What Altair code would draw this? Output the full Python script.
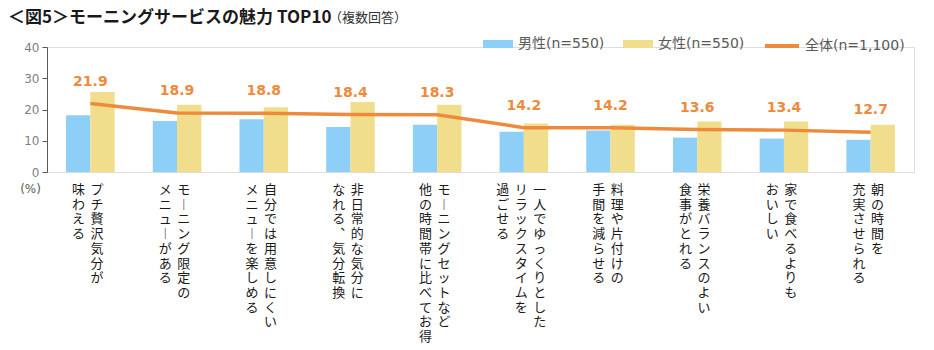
import altair as alt
import pandas as pd

# ---- data ----
label_columns = [
    ["プチ贅沢気分が", "味わえる"],
    ["モーニング限定の", "メニューがある"],
    ["自分では用意しにくい", "メニューを楽しめる"],
    ["非日常的な気分に", "なれる、気分転換"],
    ["モーニングセットなど", "他の時間帯に比べてお得"],
    ["一人でゆっくりとした", "リラックスタイムを", "過ごせる"],
    ["料理や片付けの", "手間を減らせる"],
    ["栄養バランスのよい", "食事がとれる"],
    ["家で食べるよりも", "おいしい"],
    ["朝の時間を", "充実させられる"],
]
categories = ["".join(c) for c in label_columns]
male = [18.2, 16.3, 16.9, 14.4, 15.1, 12.9, 13.3, 11.0, 10.7, 10.3]
female = [25.6, 21.5, 20.7, 22.4, 21.5, 15.5, 15.1, 16.2, 16.2, 15.1]
total = [21.9, 18.9, 18.8, 18.4, 18.3, 14.2, 14.2, 13.6, 13.4, 12.7]
series_names = ["男性(n=550)", "女性(n=550)", "全体(n=1,100)"]
y_ticks = [0, 10, 20, 30, 40]
title_text = "＜図5＞モーニングサービスの魅力 TOP10"
subtitle_text = "（複数回答）"

# ---- styles ----
BLUE = "#8ECFF8"
YELLOW = "#F1DE8C"
ORANGE = "#EE8A3C"
GRAY = "#595959"
CJK = "Noto Sans CJK JP"
LAT = "DejaVu Sans, Noto Sans CJK JP"

bar_df = pd.DataFrame(
    [{"cat": c, "series": series_names[0], "value": m} for c, m in zip(categories, male)]
    + [{"cat": c, "series": series_names[1], "value": f} for c, f in zip(categories, female)]
)
line_df = pd.DataFrame({"cat": categories, "value": total,
                        "series": [series_names[2]] * len(categories),
                        "label": [f"{v:.1f}" for v in total]})

VERT = {"ー": "︱", "、": "︑"}

# vertical category labels: one text per character, column by column (right to left)
lab_rows = []
for c, cols in zip(categories, label_columns):
    n = len(cols)
    for k, t in enumerate(cols):
        off = round(((n - 1) / 2 - k) * 18.5 - 2.5, 2)
        for r, ch in enumerate(t):
            lab_rows.append({"cat": c, "ch": VERT.get(ch, ch), "row": r, "off": off})
lab_df = pd.DataFrame(lab_rows)

x_scale = alt.Scale(paddingInner=0.44, paddingOuter=0.22)
y_scale = alt.Scale(domain=[0, 40])
row_scale = alt.Scale(domain=[0, 10], range=[137, 284])
y_axis = alt.Axis(values=y_ticks, grid=False, domainColor=GRAY, tickColor=GRAY,
                  tickSize=5, labelColor="#7f7f7f", labelFont="DejaVu Sans",
                  labelFontSize=12, labelPadding=3, title="(%)", titleAngle=0,
                  titleX=-17, titleY=141, titleBaseline="middle", titleAlign="center",
                  titleFont="DejaVu Sans", titleFontSize=12, titleFontWeight="normal",
                  titleColor=GRAY)
X = alt.X("cat:N", sort=categories, scale=x_scale, axis=None)
Y = alt.Y("value:Q", scale=y_scale, axis=y_axis)

bars = alt.Chart(bar_df).mark_bar().encode(
    x=X, y=Y,
    xOffset=alt.XOffset("series:N", sort=series_names[:2]),
    color=alt.Color("series:N", sort=series_names[:2],
                    scale=alt.Scale(domain=series_names[:2], range=[BLUE, YELLOW]),
                    legend=alt.Legend(title=None, orient="none", legendX=436, legendY=-18,
                                      direction="horizontal", symbolType="M-1,-0.27H1V0.27H-1Z",
                                      symbolSize=900, symbolStrokeWidth=0, labelOffset=5,
                                      columnPadding=18, padding=0, labelFont=LAT,
                                      labelFontSize=14, labelColor=GRAY)),
)

line = alt.Chart(line_df).mark_line(strokeWidth=3.5).encode(
    x=X, y=Y,
    stroke=alt.Stroke("series:N", scale=alt.Scale(domain=[series_names[2]], range=[ORANGE]),
                      legend=alt.Legend(title=None, orient="none", legendX=716, legendY=-20,
                                        symbolType="stroke", symbolSize=1156,
                                        symbolStrokeWidth=4, labelOffset=4, padding=0,
                                        labelFont=LAT, labelFontSize=14, labelColor=GRAY)),
)

vals = alt.Chart(line_df).mark_text(dy=-22, font="DejaVu Sans", fontWeight="bold",
                                    fontSize=14, color=ORANGE).encode(
    x=X, y=Y, text="label:N")

main = alt.layer(bars, line, vals)

label_layers = []
for off in sorted(lab_df["off"].unique()):
    sub = lab_df[lab_df["off"] == off]
    label_layers.append(
        alt.Chart(sub).mark_text(dx=float(off), align="center", baseline="top",
                                 font=CJK, fontSize=13, color="#1a1a1a").encode(
            x=X, y=alt.Y("row:Q", scale=row_scale, axis=None), text="ch:N")
    )
labels = alt.layer(*label_layers)

title_mark = alt.Chart(pd.DataFrame({"t": [title_text]})).mark_text(
    align="left", baseline="alphabetic", font=CJK, fontSize=17, fontWeight="bold",
    color="#1a1a1a").encode(x=alt.value(-39), y=alt.value(-24), text="t:N")

sub_title = alt.Chart(pd.DataFrame({"t": [subtitle_text]})).mark_text(
    align="left", baseline="alphabetic", font=CJK, fontSize=13, color="#333333").encode(
    x=alt.value(282), y=alt.value(-25), text="t:N")

chart = alt.layer(main, labels, title_mark, sub_title).properties(
    width=867, height=125,
    autosize=alt.AutoSizeParams(type="none"),
    padding={"left": 47, "top": 47, "right": 20, "bottom": 178},
).resolve_scale(y="independent", color="independent").configure_view(
    stroke=None).configure(background="white")

chart.save("out.html", embed_options={"renderer": "svg", "actions": False})
